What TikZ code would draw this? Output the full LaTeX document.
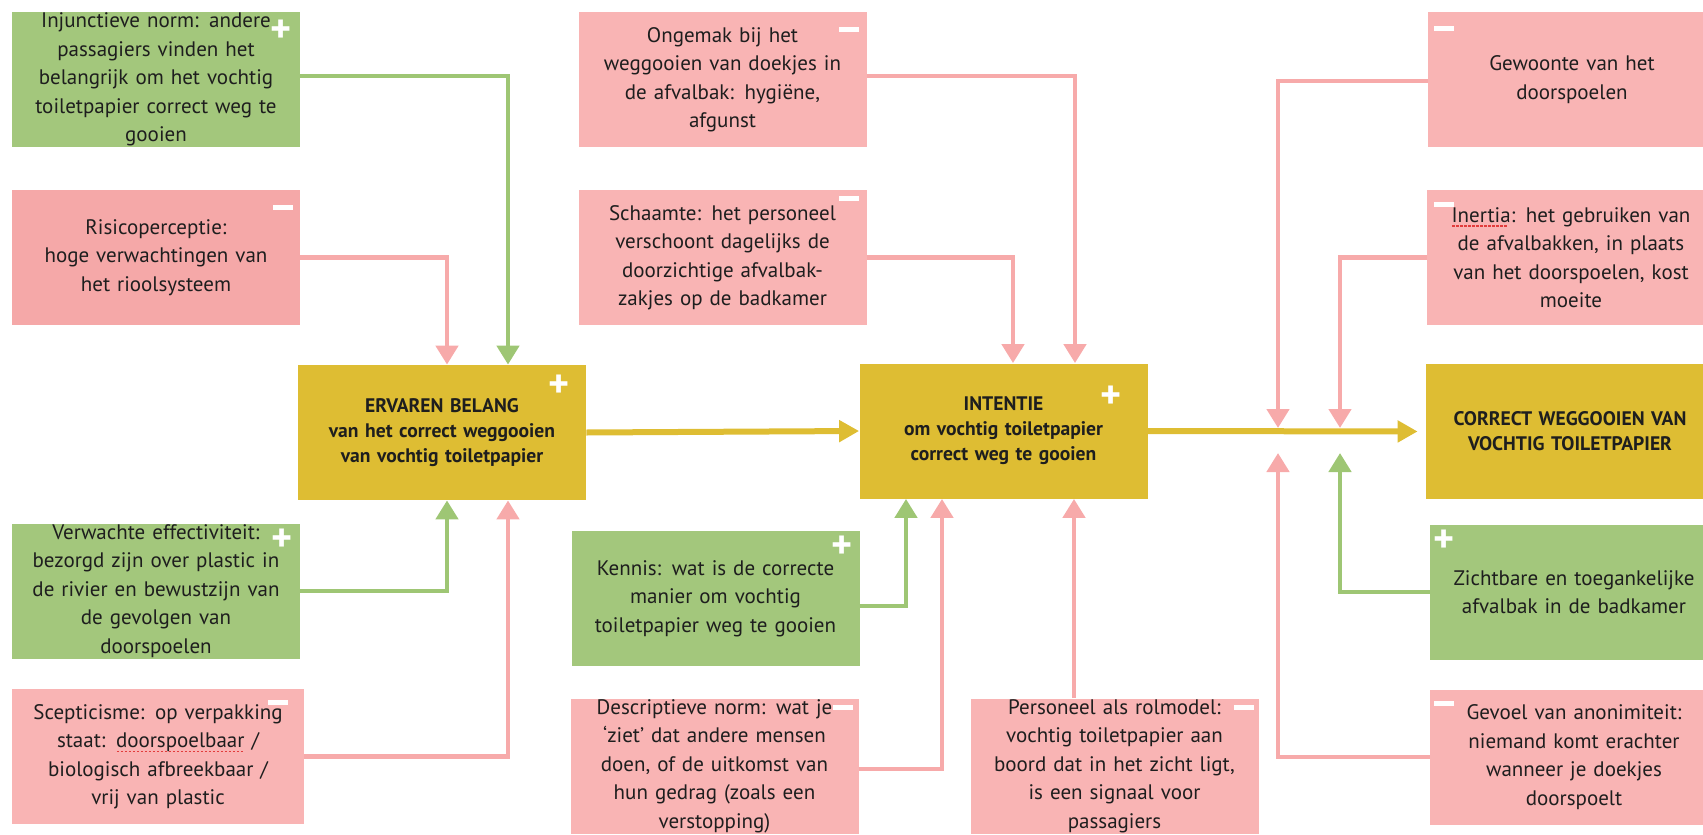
\documentclass[tikz,border=0pt]{standalone}
\usepackage{fontspec}
\setmainfont{PT Sans}
\usetikzlibrary{arrows.meta,calc}

\definecolor{boxpink}{RGB}{249,180,180}
\definecolor{boxpinkdark}{RGB}{245,168,168}
\definecolor{boxgreen}{RGB}{163,199,124}
\definecolor{boxyellow}{RGB}{222,189,51}
\definecolor{linepink}{RGB}{247,170,170}
\definecolor{linegreen}{RGB}{158,198,116}
\definecolor{textdark}{RGB}{30,30,30}
\definecolor{spellred}{RGB}{226,60,60}

% dotted spell-check underline
\newsavebox\spellbox
\newcommand{\spelled}[1]{\sbox\spellbox{#1}\rlap{\usebox\spellbox}\raisebox{-2.4pt}{\color{spellred}\leaders\hbox to 2pt{\hss\rule{1.1pt}{0.9pt}\hss}\hskip\wd\spellbox}}

\tikzset{
  basebox/.style={minimum width=144pt, minimum height=67.5pt, text width=140pt,
    align=center, inner sep=0pt, text=textdark,
    font=\fontsize{10.5}{14.25}\selectfont},
  pinkbox/.style={basebox, fill=boxpink},
  greenbox/.style={basebox, fill=boxgreen},
  mainbox/.style={basebox, fill=boxyellow, font=\fontsize{9.8}{12.5}\selectfont\bfseries},
  signmark/.style={text=white, inner sep=0pt, font=\fontsize{20}{20}\selectfont\bfseries},
  pinkline/.style={draw=linepink, line width=2.3pt, -{Triangle[length=9.5pt,width=11pt]}},
  greenline/.style={draw=linegreen, line width=2.3pt, -{Triangle[length=9.5pt,width=11pt]}},
  mainline/.style={draw=boxyellow, line width=3pt, -{Triangle[length=10pt,width=10.5pt]}}
}

\begin{document}
\begin{tikzpicture}[x=0.5pt,y=0.5pt,yscale=-1]
\useasboundingbox (0,0) rectangle (1703,835);

% Main boxes
\node[mainbox] (erv) at (442,432.5) {ERVAREN BELANG\\van het correct weggooien\\van vochtig toiletpapier};
\node[mainbox] (int) at (1003.5,431) {INTENTIE\\om vochtig toiletpapier\\correct weg te gooien};
\node[mainbox] (cor) at (1570,431.5) {CORRECT WEGGOOIEN VAN\\VOCHTIG TOILETPAPIER};

% Factors, left column
\node[greenbox] (inj) at (156,79.5) {Injunctieve norm: andere\\passagiers vinden het\\belangrijk om het vochtig\\toiletpapier correct weg te\\gooien};
\node[pinkbox, fill=boxpinkdark] (ris) at (156,257.5) {Risicoperceptie:\\hoge verwachtingen van\\het rioolsysteem};
\node[greenbox] (ver) at (156,591) {Verwachte effectiviteit:\\bezorgd zijn over plastic in\\de rivier en bewustzijn van\\de gevolgen van\\doorspoelen};
\node[pinkbox, minimum width=146pt] (sce) at (158,756.5) {Scepticisme: op verpakking\\staat: \spelled{doorspoelbaar} /\\biologisch afbreekbaar /\\vrij van plastic};

% Factors, middle column
\node[pinkbox] (ong) at (722.5,79.5) {Ongemak bij het\\weggooien van doekjes in\\de afvalbak: hygiëne,\\afgunst};
\node[pinkbox] (sch) at (722.5,257.5) {Schaamte: het personeel\\verschoont dagelijks de\\doorzichtige afvalbak-\\zakjes op de badkamer};
\node[greenbox] (ken) at (715.5,598.5) {Kennis: wat is de correcte\\manier om vochtig\\toiletpapier weg te gooien};
\node[pinkbox] (des) at (714.5,766) {Descriptieve norm: wat je\\‘ziet’ dat andere mensen\\doen, of de uitkomst van\\hun gedrag (zoals een\\verstopping)};
\node[pinkbox] (per) at (1114.5,766) {Personeel als rolmodel:\\vochtig toiletpapier aan\\boord dat in het zicht ligt,\\is een signaal voor\\passagiers};

% Factors, right column
\node[pinkbox] (gew) at (1572,79.5) {Gewoonte van het\\doorspoelen};
\node[pinkbox] (ine) at (1571,257.5) {\spelled{Inertia}: het gebruiken van\\de afvalbakken, in plaats\\van het doorspoelen, kost\\moeite};
\node[greenbox] (zic) at (1574,592) {Zichtbare en toegankelijke\\afvalbak in de badkamer};
\node[pinkbox] (gev) at (1574,757) {Gevoel van anonimiteit:\\niemand komt erachter\\wanneer je doekjes\\doorspoelt};

% Signs
\node[signmark] (s1) at (281,31) {+};
\node[signmark] (s2) at (283,207) {\rule{10pt}{2.5pt}};
\node[signmark] (s3) at (559,386) {+};
\node[signmark] (s4) at (282,540) {+};
\node[signmark] (s5) at (278,702) {\rule{10pt}{2.5pt}};
\node[signmark] (s6) at (849,29) {\rule{10pt}{2.5pt}};
\node[signmark] (s7) at (849,198) {\rule{10pt}{2.5pt}};
\node[signmark] (s8) at (1111,397) {+};
\node[signmark] (s9) at (842,547) {+};
\node[signmark] (s10) at (843,707) {\rule{10pt}{2.5pt}};
\node[signmark] (s11) at (1244,707) {\rule{10pt}{2.5pt}};
\node[signmark] (s12) at (1444,28) {\rule{10pt}{2.5pt}};
\node[signmark] (s13) at (1444,204) {\rule{10pt}{2.5pt}};
\node[signmark] (s14) at (1444,541) {+};
\node[signmark] (s15) at (1444,703) {\rule{10pt}{2.5pt}};

% Arrows into ERVAREN BELANG
\draw[greenline] ([yshift=-1.75pt]inj.east) -| ($(erv.north)+(66,0)$);
\draw[pinkline] (ris.east) -| ($(erv.north)+(5,0)$);
\draw[greenline] (ver.east) -| ($(erv.south)+(5,0)$);
\draw[pinkline] (sce.east) -| ($(erv.south)+(66,0)$);

% Arrows into INTENTIE
\draw[pinkline] ([yshift=-1.75pt]ong.east) -| ($(int.north)+(71.5,0)$);
\draw[pinkline] (sch.east) -| ($(int.north)+(9.5,0)$);
\draw[greenline] ([yshift=3.75pt]ken.east) -| ($(int.south)+(-97.5,0)$);
\draw[pinkline] ([yshift=1.5pt]des.east) -| ($(int.south)+(-61.5,0)$);
\draw[pinkline] ($(per.north)+(-40.5,0)$) coordinate (pertop) -- (pertop |- int.south);

% Arrows onto the behaviour line
\coordinate (habtip) at (1278,428);
\coordinate (inetip) at (1340,428);
\coordinate (anotip) at (1278,453);
\coordinate (zictip) at (1340,453);
\draw[pinkline] ([yshift=0.75pt]gew.west) -| (habtip);
\draw[pinkline] (ine.west) -| (inetip);
\draw[greenline] (zic.west) -| (zictip);
\draw[pinkline] (gev.west) -| (anotip);

% Main chain
\draw[mainline] (erv.east) -- (int.west);
\draw[mainline, shorten >=4pt] (int.east) -- (cor.west);

\end{tikzpicture}
\end{document}
